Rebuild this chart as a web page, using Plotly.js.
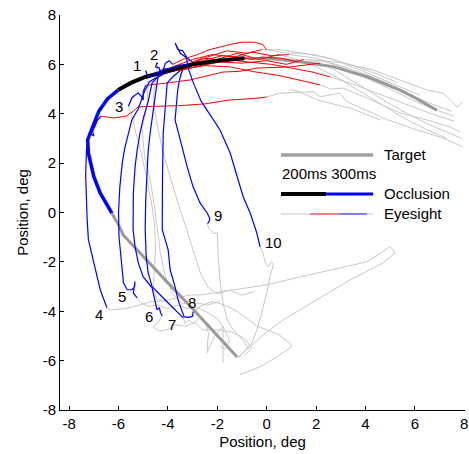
<!DOCTYPE html>
<html><head><meta charset="utf-8">
<script src="https://cdn.plot.ly/plotly-3.0.1.min.js"></script>
<style>html,body{margin:0;padding:0;background:#fff}#chart{width:469px;height:454px}</style>
</head><body><div id="chart"></div>
<script>
// ---- target trajectory ----
const targetVisible = [[6.9,4.15],[6.74,4.23],[6.0,4.65],[5.4,4.96],[4.06,5.5],[2.69,5.91],[1.35,6.11],[0.3,6.22],[-0.9,6.25]];
const targetBlack = [[-0.9,6.25],[-2.0,6.15],[-3.0,6.0],[-4.0,5.75],[-4.92,5.49],[-5.5,5.25],[-6.02,4.96]];
const targetBlue = [[-6.02,4.96],[-6.45,4.6],[-6.8,4.1],[-7.05,3.5],[-7.25,2.95],[-7.22,2.4],[-7.12,1.9],[-7.0,1.45],[-6.74,0.78],[-6.5,0.35],[-6.27,-0.03]];
const targetAfter = [[-6.27,-0.03],[-6.0,-0.5],[-5.81,-0.91],[-4.9,-1.9],[-4.0,-2.85],[-3.0,-3.9],[-2.0,-5.0],[-1.2,-5.85]];

// ---- eye traces: before occlusion (gray) ----
const grayBefore = [
 [[7.95,4.48],[7.7,4.27],[7.5,4.5],[7.14,4.84],[6.49,4.96],[5.4,5.37],[4.31,5.77],[3.09,6.06],[2.2,6.15],[1.3,6.1]],
 [[6.2,4.75],[5.5,5.05],[4.6,5.45],[3.6,5.85],[2.7,6.2],[2.0,6.38],[1.3,6.45],[0.83,6.46],[0.0,6.58]],
 [[7.9,3.0],[7.2,3.3],[6.5,3.6],[5.7,4.0],[4.9,4.45],[4.1,4.95],[3.3,5.45],[2.7,5.8],[2.16,6.05]],
 [[7.95,2.66],[7.02,3.06],[6.09,3.34],[5.3,3.6],[4.72,3.82],[3.9,4.2],[3.24,4.49],[2.97,4.83],[2.16,4.69],[1.88,4.9],[0.54,4.83],[0.0,4.68]],
 [[7.6,3.7],[6.8,3.95],[6.0,4.25],[5.2,4.55],[4.4,4.85],[3.5,5.2],[2.57,5.49]],
 [[7.83,3.26],[7.42,3.47],[6.49,3.75],[5.4,4.03],[4.06,4.64],[3.09,5.04],[2.6,5.0],[2.16,5.17]],
 [[7.6,3.9],[7.0,4.1],[6.0,4.5],[5.0,5.0],[4.0,5.45],[3.0,5.9],[2.0,6.25],[0.9,6.4]],
 [[7.5,4.1],[6.8,4.35],[6.0,4.7],[5.0,5.2],[4.0,5.6],[3.0,5.95],[2.2,6.15],[1.5,6.2]],
 [[5.3,5.25],[4.5,5.6],[3.5,5.95],[2.5,6.25],[1.5,6.45],[0.5,6.6],[-0.2,6.6]],
 [[7.3,3.0],[6.5,3.35],[5.6,3.8],[4.7,4.35],[3.8,4.9],[2.8,5.5],[1.6,6.1],[0.5,6.4]],
 [[4.6,3.75],[3.38,4.23],[2.04,4.56],[1.35,4.88],[0.9,5.0]]
];

// ---- during first 200 ms of occlusion (red) ----
const redPaths = [
 [[1.3,6.1],[0.6,6.25],[-0.2,6.3],[-0.6,6.2],[-1.0,6.28],[-1.8,6.35],[-2.6,6.15],[-3.3,6.0]],
 [[0.0,6.58],[-0.15,6.8],[-0.5,6.9],[-1.0,6.9],[-1.5,6.8],[-2.3,6.6],[-2.8,6.4],[-3.4,6.2],[-3.8,6.0]],
 [[2.16,6.05],[1.0,5.9],[-0.4,5.85],[-1.08,5.72],[-1.77,5.69],[-3.1,5.37],[-4.0,5.25],[-4.9,5.15]],
 [[0.0,4.68],[-0.5,4.62],[-1.48,4.56],[-2.5,4.4],[-3.5,4.33],[-4.5,4.3],[-5.2,4.28],[-5.4,4.1],[-5.7,3.9],[-6.2,3.83],[-6.7,3.9]],
 [[2.57,5.49],[1.8,5.7],[1.0,5.85],[0.2,6.0],[-0.8,6.1],[-1.48,6.18],[-2.4,6.0],[-3.2,5.85],[-3.9,5.7]],
 [[2.16,5.17],[1.4,5.35],[0.5,5.55],[-0.5,5.7],[-1.5,5.9],[-2.5,5.95],[-3.5,5.8],[-4.2,5.6]],
 [[0.9,6.4],[0.2,6.35],[-0.6,6.5],[-1.3,6.3],[-2.2,6.4],[-3.0,6.2],[-3.8,5.9],[-4.3,5.7]],
 [[1.5,6.2],[0.8,6.0],[0.0,6.15],[-1.0,6.05],[-2.0,6.1],[-2.8,5.9],[-3.5,5.75]],
 [[-0.2,6.6],[-0.8,6.45],[-1.6,6.55],[-2.4,6.3],[-3.0,6.05],[-3.4,5.8]],
 [[0.5,6.4],[-0.3,6.2],[-1.2,6.45],[-2.0,6.2],[-2.6,6.25],[-3.0,6.1]]
];

// ---- during last 300 ms of occlusion (blue) ----
const bluePaths = [
 [[-3.3,6.0],[-3.6,5.95],[-3.9,5.85],[-4.2,5.8],[-4.45,5.65],[-4.6,5.55],[-4.75,5.5],[-4.85,5.6],[-4.9,5.75]],
 [[-3.8,6.0],[-3.95,6.15],[-4.1,6.05],[-4.2,5.75],[-4.3,5.6],[-4.35,5.85],[-4.5,5.9],[-4.45,6.05],[-4.4,6.05]],
 [[-4.9,5.15],[-5.0,4.9],[-5.0,4.56],[-5.06,4.69],[-5.2,4.84],[-5.33,4.76],[-5.46,4.64],[-5.53,4.48],[-5.6,4.3]],
 [[-6.7,3.9],[-6.85,3.75],[-6.95,3.5],[-7.05,3.3],[-7.0,3.1],[-7.15,3.2],[-7.25,2.95],[-7.3,2.5],[-7.33,1.5],[-7.3,0.5],[-7.27,-0.3],[-7.22,-1.1],[-7.1,-1.6],[-6.95,-2.32],[-6.74,-3.13],[-6.47,-3.86]],
 [[-3.9,5.7],[-4.2,5.6],[-4.5,5.45],[-4.75,5.3],[-4.95,4.9],[-5.2,4.2],[-5.46,3.75],[-5.6,3.2],[-5.75,2.6],[-5.85,2.0],[-5.95,1.0],[-6.0,0.0],[-5.98,-1.0],[-5.92,-1.6],[-5.86,-2.32],[-5.8,-2.85],[-5.65,-3.13],[-5.45,-3.13],[-5.35,-3.0],[-5.33,-2.8],[-5.36,-3.1],[-5.4,-3.25],[-5.25,-3.46]],
 [[-4.2,5.6],[-4.45,5.45],[-4.64,5.25],[-4.8,4.5],[-5.0,3.8],[-5.13,3.22],[-5.25,2.5],[-5.33,1.85],[-5.4,0.8],[-5.41,-0.7],[-5.33,-1.39],[-5.2,-2.04],[-5.0,-2.61],[-4.8,-2.85],[-4.64,-3.05],[-4.6,-3.25],[-4.52,-3.66],[-4.44,-3.94],[-4.35,-3.85],[-4.3,-4.05],[-4.23,-4.19]],
 [[-4.3,5.7],[-4.4,5.5],[-4.44,5.25],[-4.6,4.2],[-4.72,3.22],[-4.8,2.5],[-4.84,1.85],[-4.9,0.5],[-4.92,-0.7],[-4.88,-1.8],[-4.8,-2.45],[-4.64,-3.0],[-4.31,-3.34],[-3.91,-3.74],[-3.59,-4.06],[-3.38,-4.27]],
 [[-3.5,5.75],[-3.8,5.5],[-4.03,5.25],[-4.12,4.2],[-4.19,3.22],[-4.22,1.5],[-4.23,-0.7],[-3.99,-1.51],[-3.91,-2.32],[-3.71,-3.01],[-3.59,-3.54],[-3.42,-4.02],[-3.34,-4.23],[-3.15,-4.25],[-3.0,-4.2],[-2.98,-4.02]],
 [[-3.4,5.8],[-3.5,5.5],[-3.6,5.0],[-3.65,4.4],[-3.71,3.75],[-3.5,2.94],[-3.22,1.85],[-2.98,1.04],[-2.7,0.39],[-2.41,-0.02],[-2.3,-0.25],[-2.35,-0.4],[-2.4,-0.45]],
 [[-3.0,6.1],[-3.3,6.3],[-3.5,6.45],[-3.71,6.87],[-3.6,6.6],[-3.4,6.55],[-3.25,6.3],[-3.2,5.9],[-2.95,5.2],[-2.65,4.5],[-2.16,3.75],[-1.89,3.34],[-1.48,2.41],[-1.2,1.44],[-0.95,0.63],[-0.67,-0.02],[-0.4,-0.83],[-0.27,-1.39]]
];

// ---- after occlusion (gray) ----
const grayAfter = [
 [[-4.9,5.75],[-4.8,5.2],[-4.85,4.3],[-5.05,3.4],[-4.95,2.3],[-4.72,1.3],[-4.55,0.3],[-4.44,-0.7],[-4.3,-1.7],[-4.1,-2.6],[-3.8,-3.3],[-3.4,-3.7],[-2.9,-3.65],[-2.4,-3.75],[-1.9,-3.6]],
 [[-4.4,6.05],[-4.5,5.5],[-4.6,4.56],[-4.45,3.6],[-4.19,2.41],[-3.9,1.4],[-3.6,0.4],[-3.3,-0.5],[-2.98,-1.51],[-2.7,-2.4],[-2.4,-3.0],[-2.0,-3.3],[-1.5,-3.15],[-1.0,-3.35],[-0.5,-3.2]],
 [[-5.6,4.3],[-5.45,3.9],[-5.33,3.34],[-5.1,2.5],[-4.9,1.6],[-4.7,0.6],[-4.55,-0.4],[-4.5,-1.4],[-4.55,-2.4],[-4.6,-3.1],[-4.45,-3.5],[-4.1,-3.6],[-3.7,-3.95]],
 [[-6.47,-3.86],[-6.34,-3.94],[-5.81,-3.9],[-5.41,-3.82],[-4.72,-3.62],[-4.19,-3.58],[-3.63,-3.46],[-3.1,-3.34],[-2.7,-3.34],[-1.36,-3.13],[0,-2.93],[1.35,-2.61],[2.69,-2.32],[4.06,-2.0],[4.99,-1.39],[5.12,-1.51],[5.2,-1.64],[4.71,-2.04],[3.38,-2.73],[2.04,-3.54],[0.67,-4.35],[-0.15,-4.96],[-0.67,-5.44],[-1.16,-5.85]],
 [[-5.25,-3.46],[-5.1,-3.65],[-4.8,-3.8],[-4.4,-3.75],[-4.0,-3.9],[-3.6,-3.75],[-3.2,-3.9],[-2.8,-3.85],[-2.4,-4.05],[-2.0,-4.3],[-1.7,-4.75],[-1.5,-5.2],[-1.7,-5.55],[-1.9,-5.4]],
 [[-4.23,-4.19],[-4.4,-4.45],[-4.6,-4.63],[-4.35,-4.8],[-4.03,-4.75],[-3.7,-4.55],[-3.3,-4.6],[-2.9,-4.45],[-2.6,-4.75],[-2.0,-4.75],[-1.4,-4.85],[-0.9,-5.1],[-0.6,-5.5],[-0.9,-5.8]],
 [[-3.38,-4.27],[-3.3,-4.5],[-3.15,-4.35],[-2.95,-4.5],[-2.7,-4.25],[-2.5,-4.45],[-2.35,-4.9],[-2.4,-5.3],[-2.41,-5.68],[-2.3,-5.4],[-2.1,-5.0],[-1.77,-4.6],[-1.77,-5.3],[-1.77,-6.09]],
 [[-2.98,-4.02],[-2.6,-3.75],[-2.2,-3.6],[-1.7,-3.75],[-1.2,-4.0],[-0.8,-4.3],[-0.4,-4.6],[0.0,-4.75],[0.5,-4.95],[0.95,-5.3],[1.0,-5.45],[0.41,-5.85],[-0.27,-6.25],[-1.08,-6.57]],
 [[-2.4,-0.45],[-2.35,-0.65],[-2.29,-0.7],[-2.15,-0.85],[-2.0,-0.83],[-1.97,-1.64],[-1.89,-2.73],[-1.77,-3.66],[-1.6,-4.35],[-1.36,-4.75],[-0.96,-5.16],[-0.75,-5.5]],
 [[-0.27,-1.39],[-0.15,-1.64],[-0.07,-2.0],[0.06,-2.2],[0.2,-2.0],[0.27,-2.12],[0.13,-2.6],[0.0,-3.25],[-0.2,-4.06],[-0.4,-4.75],[-0.6,-5.28],[-0.9,-5.6],[-1.15,-5.9]]
];

const trialLabels = ['1','2','3','4','5','6','7','8','9','10'];
const labelShiftX = [-9,-4,-9,-8,-15,-13,-11,-1,11,13];
const labelShiftY = [5,9,0,-7,1,-1,-7,9,8,4];
const tickVals = [-8,-6,-4,-2,0,2,4,6,8];
const tickText = ['-8','-6','-4','-2','0','2','4','6','8'];

function joined(paths){
  const x=[], y=[];
  paths.forEach((p,i)=>{ if(i){x.push(null);y.push(null);} p.forEach(d=>{x.push(d[0]);y.push(d[1]);}); });
  return {x,y};
}
function line(paths, color, width){
  const j = joined(paths);
  return {type:'scatter', mode:'lines', x:j.x, y:j.y, line:{color:color, width:width}, hoverinfo:'skip', showlegend:false};
}

const FONT = 'Liberation Sans, Arial, sans-serif';
const traces = [
  line(grayBefore.concat(grayAfter), '#c8c8c8', 1),
  line([targetVisible, targetAfter], '#9a9a9a', 3),
  line(redPaths, '#ff0000', 1),
  line([targetBlack], '#000000', 4),
  line([targetBlue], '#0000ff', 3.5),
  line(bluePaths, '#0000ff', 1.2)
];

const annotations = trialLabels.map((t,i)=>{
  const p = bluePaths[i][bluePaths[i].length-1];
  return {x:p[0], y:p[1], text:t, showarrow:false, xshift:labelShiftX[i], yshift:labelShiftY[i],
          font:{family:FONT, size:15, color:'#000'}};
});
// legend texts
annotations.push({x:4.67, y:2.33, text:'Target', xanchor:'left', showarrow:false, font:{family:FONT,size:15,color:'#000'}});
annotations.push({x:0.55, y:1.56, text:'200ms 300ms', xanchor:'left', showarrow:false, font:{family:FONT,size:15,color:'#000'}});
annotations.push({x:4.67, y:0.75, text:'Occlusion', xanchor:'left', showarrow:false, font:{family:FONT,size:15,color:'#000'}});
annotations.push({x:4.67, y:-0.06, text:'Eyesight', xanchor:'left', showarrow:false, font:{family:FONT,size:15,color:'#000'}});

const shapes = [
  {type:'line', x0:0.58, x1:4.31, y0:2.33, y1:2.33, line:{color:'#a0a0a0', width:3.5}},
  {type:'line', x0:0.58, x1:2.4, y0:0.75, y1:0.75, line:{color:'#000000', width:4}},
  {type:'line', x0:2.4, x1:4.31, y0:0.75, y1:0.75, line:{color:'#0000ff', width:3}},
  {type:'line', x0:0.58, x1:1.76, y0:-0.06, y1:-0.06, line:{color:'#c8c8c8', width:1}},
  {type:'line', x0:1.76, x1:2.93, y0:-0.06, y1:-0.06, line:{color:'#ff0000', width:1}},
  {type:'line', x0:2.93, x1:4.06, y0:-0.06, y1:-0.06, line:{color:'#0000ff', width:1}},
  {type:'line', x0:4.06, x1:4.31, y0:-0.06, y1:-0.06, line:{color:'#c8c8c8', width:1}}
];

const axisCommon = {
  tickvals:tickVals, ticktext:tickText, ticks:'inside', ticklen:4, tickwidth:1, tickcolor:'#000',
  showline:true, linecolor:'#000', linewidth:1, showgrid:false, zeroline:false, mirror:false,
  tickfont:{family:FONT, size:15, color:'#000'}, fixedrange:true
};
const layout = {
  width:469, height:454,
  margin:{l:60, r:4, t:15, b:44, pad:0},
  paper_bgcolor:'#fff', plot_bgcolor:'#fff',
  font:{family:FONT, size:15, color:'#000'},
  xaxis:Object.assign({}, axisCommon, {range:[-8.37,8.03], title:{text:'Position, deg', font:{family:FONT,size:15,color:'#000'}, standoff:5}, automargin:false}),
  yaxis:Object.assign({}, axisCommon, {range:[-8,8], title:{text:'Position, deg', font:{family:FONT,size:15,color:'#000'}, standoff:10}, automargin:false}),
  annotations:annotations, shapes:shapes, showlegend:false
};
Plotly.newPlot('chart', traces, layout, {displayModeBar:false, staticPlot:true});
</script></body></html>
